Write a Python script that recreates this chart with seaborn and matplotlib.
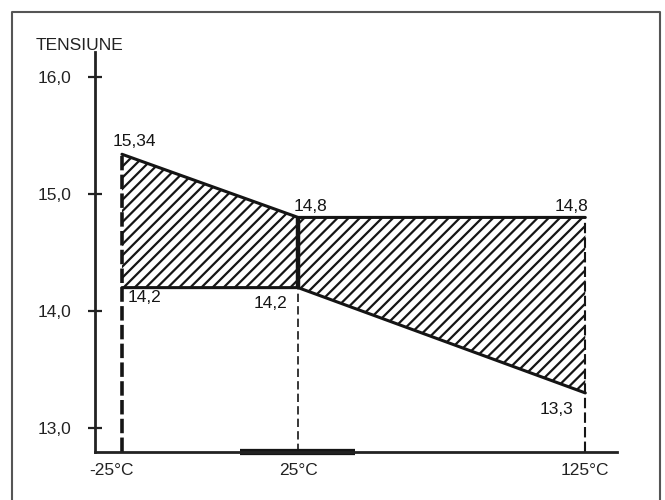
import matplotlib
matplotlib.use("Agg")
import matplotlib.pyplot as plt
import matplotlib.transforms as mtransforms
from matplotlib.lines import Line2D
import pandas as pd
import seaborn as sns

# --- data ---
temps = ["-25°C", "25°C", "125°C"]
x_pos = [0.0, 1.0, 2.63]          # position of each temperature on the (non linear) axis
v_max = [15.34, 14.8, 14.8]       # upper limit of the band
v_min = [14.2, 14.2, 13.3]        # lower limit of the band
y_ticks = [13.0, 14.0, 15.0, 16.0]
y_tick_labels = ["13,0", "14,0", "15,0", "16,0"]
band = [0.67, 1.32]               # thick piece of the x axis around 25°C

df = pd.DataFrame({"temp": temps, "x": x_pos, "vmax": v_max, "vmin": v_min})

sns.set_theme(style="white")
plt.rcParams["font.family"] = ["Liberation Sans", "DejaVu Sans"]
plt.rcParams["hatch.linewidth"] = 1.6
ink = "#151515"

fig = plt.figure(figsize=(6.65, 5), dpi=100)
ax = fig.add_axes([95 / 665, 1 - 452 / 500, (617 - 95) / 665, (452 - 52) / 500])
y_lo, y_hi = 12.795, 16.214
ax.set_xlim(-0.153, 2.81)
ax.set_ylim(y_lo, y_hi)

# hatched tolerance band
ax.fill_between(df["x"], df["vmin"], df["vmax"], facecolor="white",
                edgecolor=ink, hatch="///", linewidth=0)
sns.lineplot(data=df, x="x", y="vmax", color=ink, lw=2.2, ax=ax)
sns.lineplot(data=df, x="x", y="vmin", color=ink, lw=2.2, ax=ax)
ax.vlines(df["x"][1], df["vmin"][1], df["vmax"][1], color=ink, lw=3.2)

# dashed drop lines to the axis
tops = [df["vmax"][0], df["vmin"][1], df["vmax"][2]]
widths = [2.6, 1.2, 1.5]
dashes = [(4, 1.2), (5, 2.5), (5, 2)]
for x, top, w, d in zip(df["x"], tops, widths, dashes):
    ax.plot([x, x], [y_lo, top], color=ink, lw=w, linestyle=(0, d))

ax.plot(band, [y_lo, y_lo], color=ink, lw=4.5, clip_on=False, solid_capstyle="butt")

# value labels
fmt = lambda v: f"{v:g}".replace(".", ",")
specs = [
    (0, "vmax", -9, 5, "left", "bottom"),
    (1, "vmax", -5, 3, "left", "bottom"),
    (2, "vmax", 3, 3, "right", "bottom"),
    (0, "vmin", 6, -2, "left", "top"),
    (1, "vmin", -11, -8, "right", "top"),
    (2, "vmin", -12, -9, "right", "top"),
]
for i, col, dx, dy, ha, va in specs:
    ax.annotate(fmt(df[col][i]), (df["x"][i], df[col][i]), xytext=(dx, dy),
                textcoords="offset pixels", ha=ha, va=va, fontsize=12.5, color=ink)

# axes styling
for side in ["top", "right"]:
    ax.spines[side].set_visible(False)
for side in ["left", "bottom"]:
    ax.spines[side].set_color("#222222")
    ax.spines[side].set_linewidth(2)
ax.set_yticks(y_ticks, y_tick_labels)
ax.set_xticks(df["x"], df["temp"])
ax.tick_params(axis="y", left=True, direction="inout", length=10, width=1.6,
               pad=12, labelsize=12.5, colors="#222222")
ax.tick_params(axis="x", bottom=False, length=0, pad=8, labelsize=12.5, colors="#222222")
ax.set_xlabel("")
ax.set_ylabel("")

# the -25°C label sits a little left of its line in the reference
lab = ax.get_xticklabels()[0]
lab.set_transform(lab.get_transform() + mtransforms.ScaledTranslation(-0.1, 0, fig.dpi_scale_trans))

fig.text(80 / 665, 1 - 45 / 500, "TENSIUNE", ha="center", va="center",
         fontsize=12.5, color="#222222")

# frame around the figure (open at the bottom)
fx = [12 / 665, 12 / 665, 660 / 665, 660 / 665]
fy = [0, 1 - 12 / 500, 1 - 12 / 500, 0]
fig.add_artist(Line2D(fx, fy, transform=fig.transFigure, color="#555555", lw=1.5))

fig.savefig("out.png", dpi=100)
